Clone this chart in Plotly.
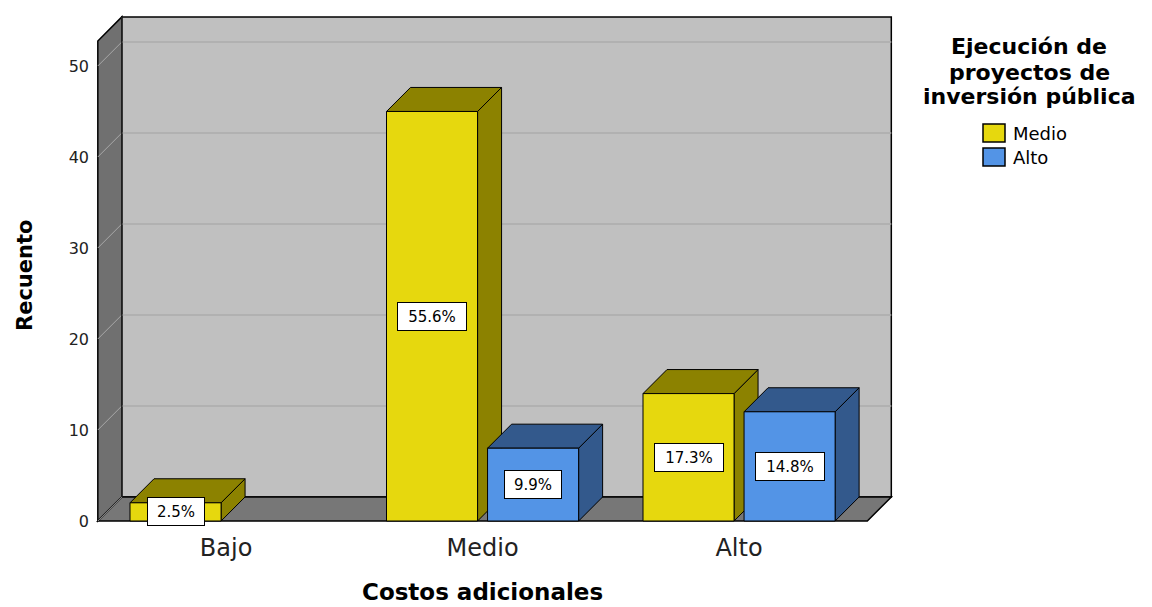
import plotly.graph_objects as go

# ---------------- data ----------------
categories = ["Bajo", "Medio", "Alto"]
series_names = ["Medio", "Alto"]
counts_medio = [2, 45, 14]
counts_alto = [0, 8, 12]
y_ticks = [0, 10, 20, 30, 40, 50]
legend_title_lines = ["Ejecución de", "proyectos de", "inversión pública"]

series_counts = {"Medio": counts_medio, "Alto": counts_alto}
total = sum(counts_medio) + sum(counts_alto)

# ---------------- style / layout ----------------
FONT = "DejaVu Sans, Verdana, sans-serif"
FRONT = {"Medio": "#e6d80e", "Alto": "#5394e6"}
SHADE = {"Medio": "#8c8200", "Alto": "#33598c"}
BAR_W = 0.355
OFFS = {"Medio": -0.197, "Alto": 0.197}
DX = 0.0936      # depth offset in category units
DY = 2.64        # depth offset in count units
WALL_H = 52.75
X0, X1 = -0.5, 2.5

PAGE_OFF = 8                      # default body margin of the html page
FIG_W, FIG_H = 1152 - PAGE_OFF, 607 - PAGE_OFF
PLOT_L, PLOT_T, PLOT_W, PLOT_H = 95 - PAGE_OFF, 14 - PAGE_OFF, 800, 510


def xp(px):
    return (px - PAGE_OFF - PLOT_L) / PLOT_W


def yp(py):
    return 1 - (py - PAGE_OFF - PLOT_T) / PLOT_H


shapes = []


def path(pts):
    return "M " + " L ".join(f"{x},{y}" for x, y in pts) + " Z"


# walls and floor
shapes.append(dict(type="path", layer="below", xref="x", yref="y",
                   path=path([(X0, 0), (X0, WALL_H), (X0 + DX, WALL_H + DY), (X0 + DX, DY)]),
                   fillcolor="#707070", line=dict(color="black", width=1.5)))
shapes.append(dict(type="rect", layer="below", xref="x", yref="y",
                   x0=X0 + DX, x1=X1 + DX, y0=DY, y1=WALL_H + DY,
                   fillcolor="#c0c0c0", line=dict(color="black", width=1.5)))
shapes.append(dict(type="path", layer="below", xref="x", yref="y",
                   path=path([(X0, 0), (X1, 0), (X1 + DX, DY), (X0 + DX, DY)]),
                   fillcolor="#777777", line=dict(color="black", width=1.5)))
shapes.append(dict(type="line", layer="below", xref="x", yref="y",
                   x0=X0, y0=0, x1=X0 + DX, y1=DY, line=dict(color="#a0a0a0", width=1)))
# grid lines
for v in y_ticks[1:]:
    shapes.append(dict(type="line", layer="below", xref="x", yref="y",
                       x0=X0 + DX, y0=v + DY, x1=X1 + DX, y1=v + DY,
                       line=dict(color="#adadad", width=1.5)))
    shapes.append(dict(type="line", layer="below", xref="x", yref="y",
                       x0=X0, y0=v, x1=X0 + DX, y1=v + DY,
                       line=dict(color="#a8a8a8", width=1)))
# corner line
shapes.append(dict(type="line", layer="below", xref="x", yref="y",
                   x0=X0 + DX, y0=DY, x1=X0 + DX, y1=WALL_H + DY,
                   line=dict(color="#222222", width=1.5)))

# 3D tops and sides of bars + value labels
annotations = []
for i, cat in enumerate(categories):
    for s in series_names:
        v = series_counts[s][i]
        if v <= 0:
            continue
        xl = i + OFFS[s] - BAR_W / 2
        xr = xl + BAR_W
        shapes.append(dict(type="path", layer="below", xref="x", yref="y",
                           path=path([(xr, 0), (xr + DX, DY), (xr + DX, v + DY), (xr, v)]),
                           fillcolor=SHADE[s], line=dict(color="black", width=1)))
        shapes.append(dict(type="path", layer="below", xref="x", yref="y",
                           path=path([(xl, v), (xl + DX, v + DY), (xr + DX, v + DY), (xr, v)]),
                           fillcolor=SHADE[s], line=dict(color="black", width=1)))
        label = f"{v / total * 100:.1f}%"
        annotations.append(dict(x=i + OFFS[s], y=v / 2, xref="x", yref="y",
                                text=label, showarrow=False,
                                font=dict(family=FONT, size=15, color="black"),
                                width=12 * len(label) + 4, height=23,
                                bgcolor="white", bordercolor="black", borderwidth=1, borderpad=2))

fig = go.Figure()
for s in series_names:
    xs = [i for i, v in enumerate(series_counts[s]) if v > 0]
    ys = [v for v in series_counts[s] if v > 0]
    fig.add_trace(go.Bar(x=xs, y=ys, name=s, width=BAR_W, offset=OFFS[s] - BAR_W / 2,
                         marker=dict(color=FRONT[s], line=dict(color="black", width=1)),
                         hoverinfo="skip", showlegend=False))

# axis titles
annotations.append(dict(x=1, y=yp(592), xref="x", yref="paper", text="<b>Costos adicionales</b>",
                        showarrow=False, xanchor="center", yanchor="middle",
                        font=dict(family=FONT, size=23, color="black")))
annotations.append(dict(text="<b>Recuento</b>", textangle=-90, showarrow=False,
                        xref="paper", yref="paper", x=xp(25), y=yp(276),
                        xanchor="center", yanchor="middle",
                        font=dict(family=FONT, size=21, color="black")))
# legend title
for k, line in enumerate(legend_title_lines):
    annotations.append(dict(text=f"<b>{line}</b>", showarrow=False,
                            xref="paper", yref="paper", x=xp(1029), y=yp(47 + 25 * k),
                            xanchor="center", yanchor="middle",
                            font=dict(family=FONT, size=22, color="black")))
# legend entries
for k, s in enumerate(series_names):
    top = 124 + 24 * k
    shapes.append(dict(type="rect", xref="paper", yref="paper",
                       x0=xp(983), x1=xp(1005), y0=yp(top), y1=yp(top + 18),
                       fillcolor=FRONT[s], line=dict(color="black", width=1.5)))
    annotations.append(dict(text=s, showarrow=False, xref="paper", yref="paper",
                            x=xp(1011), y=yp(top + 9), xanchor="left", yanchor="middle",
                            font=dict(family=FONT, size=18, color="black")))

fig.update_layout(
    width=FIG_W, height=FIG_H,
    margin=dict(l=PLOT_L, r=FIG_W - PLOT_L - PLOT_W, t=PLOT_T, b=FIG_H - PLOT_T - PLOT_H,
                autoexpand=False),
    paper_bgcolor="white", plot_bgcolor="white",
    barmode="overlay",
    shapes=shapes, annotations=annotations,
    showlegend=False,
    font=dict(family=FONT),
)
fig.update_xaxes(range=[-0.511, 2.608], tickvals=list(range(len(categories))), ticktext=categories,
                 showgrid=False, zeroline=False, showline=False, ticks="",
                 tickfont=dict(family=FONT, size=24, color="#222222"), ticklabelstandoff=7)
fig.update_yaxes(range=[-0.33, 55.71], tickvals=y_ticks, showgrid=False, zeroline=False,
                 showline=False, ticks="", tickfont=dict(family=FONT, size=16, color="#222222"),
                 ticklabelstandoff=5)

fig.write_html("out.html")
